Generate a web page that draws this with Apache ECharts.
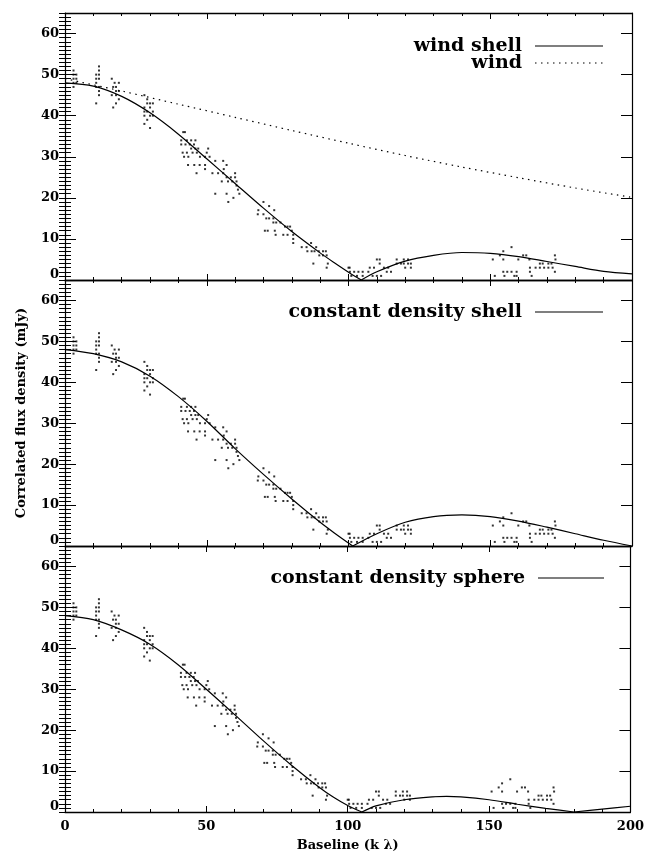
<!DOCTYPE html>
<html>
<head>
<meta charset="utf-8">
<script src="https://cdn.jsdelivr.net/npm/echarts@6/dist/echarts.min.js"></script>
<style>html,body{margin:0;padding:0;background:#fff}#c{width:647px;height:855px}</style>
</head>
<body>
<div id="c"></div>
<script>
// ---- data (baseline in k lambda, flux in mJy) ----
const observed = [
  [3,47],[3,48],[3,49],[3,50],[3,51],[4,48],[4,49],[4,50],
  [11,43],[11,47],[11,48],[11,49],[11,50],[12,45],[12,46],[12,47],[12,49],[12,50],[12,51],[12,52],
  [16.5,49],[17,47],[16.5,45],[17,42],[17.5,48],[18,47],[18,46],[18,45],[18,43],[19,48],[19,46],[19,44],
  [28,45],[28,42],[28,41],[28,40],[28,38],[29,44],[29,43],[29,41],[29,39],[30,43],[30,42],[30,40],[30,37],[31,43],[31,41],[31,40],
  [41.7,36],[42.3,36],[41,34],[43,34],[44.5,34],[46,34],[41,33],[42.5,33],[44,33],[45.5,33],[44.5,32],[46,32],[47,32],[50.5,32],
  [41.5,31],[43,31],[45,31],[46.5,31],[50,31],[42,30],[43.5,30],[47.6,30],[49.4,30],[51,30],[43.4,28],[45.6,28],[47.5,28],[49.4,28],[49.4,27],[46.4,26],
  [53,29],[55.8,29],[57,28],[52,26],[54,26],[55.8,26],[56,27],[60,26],[57,25],[58.5,25],[60,25],[55.3,24],[57.5,24],[59,24],[60.5,24],
  [60.5,23],[61,22],[53,21],[57,21],[61.5,21],[59.4,20],[57.6,19],
  [70,19],[72,18],[68.2,17],[73.8,17],[68,16],[70,16],[71,15],[72,15],[73.5,15],[73.5,14],[74.5,14],[76,14],[77.6,13],[78.5,13],[79.4,13],
  [80,12],[70.5,12],[71.5,12],[74,12],[74.3,11],[77,11],[78.5,11],[80.5,11],[80.5,10],[80.5,9],
  [83.5,8],[85.2,8],[85.5,7],[87,7],[88,7],[89.5,7],[91,7],[92,7],[89.7,6],[91,6],[92.3,6],[86.8,9],[88.6,8],[87.6,4],[92.3,3],[92.7,4],
  [100,3],[100.4,3],[100.5,2],[102,2],[103.5,2],[101,1],[103,1],[105,1],[105,2],[107,2],[107.5,3],[109,3],[110,5],[111,5],[111,4],
  [108.5,1],[110,1],[111.5,1],[112.5,3],[114,3],[113.5,2],[115,2],[117,5],[117,4],[118.5,4],[119.5,5],[121,5],[119.5,4],[121,4],[122,4],[120,3],[122,3],
  [157.5,8],[154.6,7],[153.4,6],[150.9,5],[154.6,5],[159.9,5],[163.8,5],[161.6,6],[162.7,6],[167.5,4],[168.5,4],[170.5,4],[171.6,4],
  [164,3],[166,3],[167.5,3],[169,3],[170.5,3],[172,3],[154.6,2],[156,2],[157.5,2],[159.3,2],[151.6,1],[155,1],[158.5,1],[159.3,1],[164.6,1],[164,2],
  [172.8,6],[172.8,2],[173,5]
];
const windShell = [
  [0,48.0],[10,47.2],[20,44.7],[30,40.7],[40,35.5],[50,29.5],[60,23.5],[70,17.5],[80,11.8],[90,6.6],[95,4.2],[100,1.9],[104.5,0],
  [110,2.0],[120,4.6],[130,6.0],[140,6.7],[150,6.5],[160,5.7],[170,4.5],[180,3.3],[190,2.1],[200,1.5]
];
const wind = [
  [0,49],[20,46],[40,42.8],[60,39.6],[80,36.4],[100,33.3],[120,30.3],[140,27.5],[160,24.9],[180,22.4],[200,20.1]
];
const constShell = [
  [0,48],[10,47],[20,45],[30,41.5],[40,36.5],[50,30.5],[60,23.8],[70,17.5],[80,11.5],[90,5.8],[95,3.2],[101.5,0],
  [110,3],[120,5.8],[130,7.2],[140,7.6],[150,7.2],[160,6.1],[170,4.6],[180,3.0],[190,1.4],[200,0]
];
const constSphere = [
  [0,48],[10,47],[20,44.5],[30,41],[40,36],[50,30],[60,23.8],[70,17.5],[80,11.5],[90,6],[95,3.6],[100,1.6],[105,0],
  [110,1.5],[120,3.0],[130,3.7],[135,3.8],[140,3.7],[150,3.0],[160,1.9],[170,0.9],[180,0],[190,0.7],[200,1.4]
];
const xTicks = [0,50,100,150,200];
const yTicks = [0,10,20,30,40,50,60];

// ---- layout ----
const FONT = 'DejaVu Serif';
const grids = [
  {left:65, width:567, top:13, height:267},
  {left:65, width:567, top:280, height:266},
  {left:65, width:567, top:546, height:266}
];
const xAxes = [], yAxes = [];
grids.forEach((g, i) => {
  const last = i === 2;
  ['bottom','top'].forEach(pos => {
    xAxes.push({
      type:'value', gridIndex:i, position:pos, min:xTicks[0], max:xTicks[xTicks.length-1], interval:50,
      axisLine:{show:true, onZero:false, lineStyle:{color:'#000', width:1.3}},
      axisTick:{show:true, inside:true, length:6, lineStyle:{color:'#000', width:1}},
      minorTick:{show:true, splitNumber:5, length:3, lineStyle:{color:'#000', width:1}},
      splitLine:{show:false},
      axisLabel:{show: last && pos==='bottom', margin:8, color:'#000', fontFamily:FONT, fontWeight:'bold', fontSize:13},
      name: (last && pos==='bottom') ? 'Baseline (k \u03bb)' : '',
      nameLocation:'middle', nameGap:27,
      nameTextStyle:{color:'#000', fontFamily:FONT, fontWeight:'bold', fontSize:13}
    });
  });
  ['left','right'].forEach(pos => {
    yAxes.push({
      type:'value', gridIndex:i, position:pos, min:0, max:65, interval:10,
      axisLine:{show:true, onZero:false, lineStyle:{color:'#000', width:1.2}},
      axisTick:{show:true, inside:true, length:11, lineStyle:{color:'#000', width:1}},
      splitLine:{show:false},
      axisLabel:{show: pos==='left', showMaxLabel:false, margin:6, color:'#000', fontFamily:FONT, fontWeight:'bold', fontSize:13,
        formatter: v => (v === 0 ? '{z|0}' : (yTicks.indexOf(v) >= 0 ? String(v) : '')),
        rich:{z:{padding:[0,0,10,0], color:'#000', fontFamily:FONT, fontWeight:'bold', fontSize:13}}},
      name: (i===1 && pos==='left') ? 'Correlated flux density (mJy)' : '',
      nameLocation:'middle', nameGap:37,
      nameTextStyle:{color:'#000', fontFamily:FONT, fontWeight:'bold', fontSize:13}
    });
    yAxes.push({
      type:'value', gridIndex:i, position:pos, min:0, max:65, interval:1,
      axisLine:{show:false},
      axisTick:{show:true, inside:true, length:6, lineStyle:{color:'#000', width:1}},
      splitLine:{show:false}, axisLabel:{show:false}
    });
  });
});

function scatterFor(i){
  return {type:'scatter', name:'data'+i, xAxisIndex:2*i, yAxisIndex:4*i, data:observed,
    symbol:'rect', symbolSize:2, itemStyle:{color:'#000'}, silent:true, z:3};
}
// split a model curve into lobes at its zero points (the curve is |V|, with sharp minima)
function lobes(data){
  const out = []; let cur = [];
  data.forEach((p, k) => {
    cur.push(p);
    if (p[1] === 0 && k > 0 && k < data.length - 1) { out.push(cur); cur = [p]; }
  });
  if (cur.length > 1) out.push(cur);
  return out;
}
function linesFor(i, name, data, dash){
  return lobes(data).map(seg => ({type:'line', name:name, xAxisIndex:2*i, yAxisIndex:4*i, data:seg, smooth:0.3,
    symbol:'none', lineStyle:{color:'#000', width:1.2, type: dash ? [1.5,4.5] : 'solid'}, silent:true, z:4}));
}

const legendFont = {fontFamily:FONT, fontWeight:'bold', fontSize:19, fill:'#000', textAlign:'right', textVerticalAlign:'middle'};
function legendEntry(label, tx, ty, x1, x2, dash){
  return [
    {type:'text', x:tx, y:ty, style:Object.assign({text:label}, legendFont)},
    {type:'line', shape:{x1:x1, y1:ty, x2:x2, y2:ty}, style:{stroke:'#000', lineWidth:1.2, lineDash: dash ? [1.5,4.5] : null}}
  ];
}

const chart = echarts.init(document.getElementById('c'), null, {renderer:'canvas'});
chart.setOption({
  animation:false,
  backgroundColor:'#fff',
  grid: grids,
  xAxis: xAxes,
  yAxis: yAxes,
  series: [].concat(
    [scatterFor(0)], linesFor(0,'wind shell',windShell,false), linesFor(0,'wind',wind,true),
    [scatterFor(1)], linesFor(1,'constant density shell',constShell,false),
    [scatterFor(2)], linesFor(2,'constant density sphere',constSphere,false)
  ),
  graphic: [].concat(
    legendEntry('wind shell', 522, 46, 535, 603, false),
    legendEntry('wind', 522, 63, 535, 603, true),
    legendEntry('constant density shell', 522, 312, 535, 603, false),
    legendEntry('constant density sphere', 525, 578, 538, 604, false)
  )
});
</script>
</body>
</html>
